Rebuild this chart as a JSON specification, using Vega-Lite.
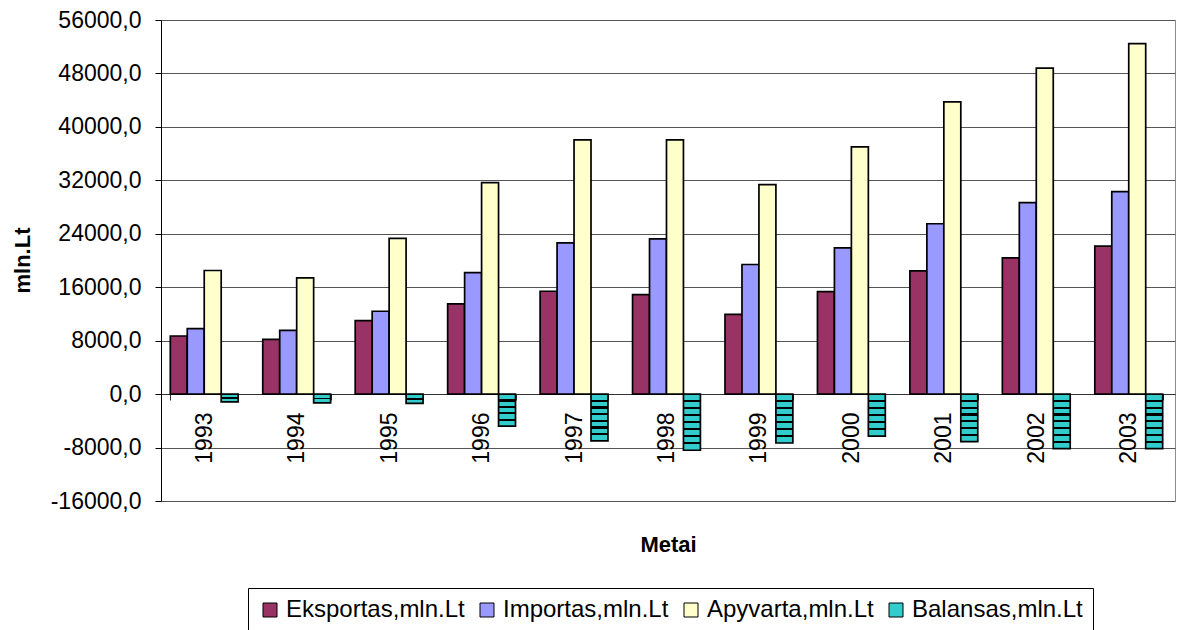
{
  "$schema": "https://vega.github.io/schema/vega-lite/v6.json",
  "width": 1014,
  "height": 481,
  "autosize": {"type": "none"},
  "padding": {"left": 161, "top": 20, "right": 3, "bottom": 129},
  "background": "white",
  "config": {
    "font": "Liberation Sans",
    "view": {"stroke": "#8c8c8c", "strokeWidth": 1}
  },
  "data": {
    "values": [
      {"Year": "1993", "Series": "Eksportas,mln.Lt", "Value": 8700},
      {"Year": "1993", "Series": "Importas,mln.Lt", "Value": 9810},
      {"Year": "1993", "Series": "Apyvarta,mln.Lt", "Value": 18500},
      {"Year": "1993", "Series": "Balansas,mln.Lt", "Value": -1150},
      {"Year": "1994", "Series": "Eksportas,mln.Lt", "Value": 8200},
      {"Year": "1994", "Series": "Importas,mln.Lt", "Value": 9550},
      {"Year": "1994", "Series": "Apyvarta,mln.Lt", "Value": 17400},
      {"Year": "1994", "Series": "Balansas,mln.Lt", "Value": -1300},
      {"Year": "1995", "Series": "Eksportas,mln.Lt", "Value": 11000},
      {"Year": "1995", "Series": "Importas,mln.Lt", "Value": 12400},
      {"Year": "1995", "Series": "Apyvarta,mln.Lt", "Value": 23300},
      {"Year": "1995", "Series": "Balansas,mln.Lt", "Value": -1400},
      {"Year": "1996", "Series": "Eksportas,mln.Lt", "Value": 13500},
      {"Year": "1996", "Series": "Importas,mln.Lt", "Value": 18200},
      {"Year": "1996", "Series": "Apyvarta,mln.Lt", "Value": 31660},
      {"Year": "1996", "Series": "Balansas,mln.Lt", "Value": -4780},
      {"Year": "1997", "Series": "Eksportas,mln.Lt", "Value": 15400},
      {"Year": "1997", "Series": "Importas,mln.Lt", "Value": 22650},
      {"Year": "1997", "Series": "Apyvarta,mln.Lt", "Value": 38050},
      {"Year": "1997", "Series": "Balansas,mln.Lt", "Value": -7000},
      {"Year": "1998", "Series": "Eksportas,mln.Lt", "Value": 14900},
      {"Year": "1998", "Series": "Importas,mln.Lt", "Value": 23250},
      {"Year": "1998", "Series": "Apyvarta,mln.Lt", "Value": 38050},
      {"Year": "1998", "Series": "Balansas,mln.Lt", "Value": -8400},
      {"Year": "1999", "Series": "Eksportas,mln.Lt", "Value": 11950},
      {"Year": "1999", "Series": "Importas,mln.Lt", "Value": 19400},
      {"Year": "1999", "Series": "Apyvarta,mln.Lt", "Value": 31350},
      {"Year": "1999", "Series": "Balansas,mln.Lt", "Value": -7320},
      {"Year": "2000", "Series": "Eksportas,mln.Lt", "Value": 15350},
      {"Year": "2000", "Series": "Importas,mln.Lt", "Value": 21900},
      {"Year": "2000", "Series": "Apyvarta,mln.Lt", "Value": 37000},
      {"Year": "2000", "Series": "Balansas,mln.Lt", "Value": -6300},
      {"Year": "2001", "Series": "Eksportas,mln.Lt", "Value": 18450},
      {"Year": "2001", "Series": "Importas,mln.Lt", "Value": 25500},
      {"Year": "2001", "Series": "Apyvarta,mln.Lt", "Value": 43750},
      {"Year": "2001", "Series": "Balansas,mln.Lt", "Value": -7100},
      {"Year": "2002", "Series": "Eksportas,mln.Lt", "Value": 20400},
      {"Year": "2002", "Series": "Importas,mln.Lt", "Value": 28650},
      {"Year": "2002", "Series": "Apyvarta,mln.Lt", "Value": 48800},
      {"Year": "2002", "Series": "Balansas,mln.Lt", "Value": -8150},
      {"Year": "2003", "Series": "Eksportas,mln.Lt", "Value": 22150},
      {"Year": "2003", "Series": "Importas,mln.Lt", "Value": 30300},
      {"Year": "2003", "Series": "Apyvarta,mln.Lt", "Value": 52450},
      {"Year": "2003", "Series": "Balansas,mln.Lt", "Value": -8150}
    ]
  },
  "mark": {"type": "bar", "stroke": "#000000", "strokeWidth": 1.7},
  "encoding": {
    "x": {
      "field": "Year",
      "type": "nominal",
      "scale": {"paddingInner": 0.266, "paddingOuter": 0.117, "align": 0.43},
      "axis": {
        "title": "Metai",
        "titleFontSize": 22,
        "titleFontWeight": "bold",
        "titleColor": "#000",
        "titleY": 150,
        "titleBaseline": "middle",
        "labelAngle": -90,
        "labelFontSize": 23,
        "labelColor": "#000",
        "labelPadding": 12,
        "tickBand": "extent",
        "tickSize": 6,
        "tickColor": "#333",
        "domainColor": "#333",
        "offset": -107,
        "grid": false
      }
    },
    "xOffset": {
      "field": "Series",
      "type": "nominal",
      "sort": ["Eksportas,mln.Lt", "Importas,mln.Lt", "Apyvarta,mln.Lt", "Balansas,mln.Lt"],
      "scale": {"paddingInner": 0, "paddingOuter": 0}
    },
    "y": {
      "field": "Value",
      "type": "quantitative",
      "scale": {"domain": [-16000, 56000], "nice": false, "zero": false},
      "axis": {
        "values": [-16000, -8000, 0, 8000, 16000, 24000, 32000, 40000, 48000, 56000],
        "labelExpr": "replace(replace(format(datum.value, '.1f'), '.', ','), '\u2212', '-')",
        "labelFontSize": 23,
        "labelColor": "#000",
        "labelPadding": 14,
        "tickSize": 6,
        "tickColor": "#000",
        "domainColor": "#000",
        "grid": true,
        "gridColor": "#555",
        "title": "mln.Lt",
        "titleFontSize": 22,
        "titleFontWeight": "bold",
        "titleColor": "#000",
        "titleX": -139,
        "titleY": 240,
        "titleAlign": "center",
        "titleBaseline": "middle",
        "titleAngle": -90
      }
    },
    "fill": {
      "field": "Series",
      "type": "nominal",
      "scale": {
        "domain": ["Eksportas,mln.Lt", "Importas,mln.Lt", "Apyvarta,mln.Lt", "Balansas,mln.Lt"],
        "range": ["#993366", "#9999FF", "#FFFFCC", "#33CCCC"]
      },
      "legend": {
        "title": null,
        "orient": "none",
        "legendX": 87,
        "legendY": 568,
        "direction": "horizontal",
        "columns": 4,
        "symbolType": "square",
        "symbolSize": 196,
        "symbolStrokeColor": "#000",
        "symbolStrokeWidth": 1,
        "labelFontSize": 24,
        "labelColor": "#000",
        "labelOffset": 4,
        "columnPadding": 10,
        "padding": 10,
        "strokeColor": "#000",
        "fillColor": "#fff",
        "labelLimit": 300
      },
      "condition": [
        {
          "test": "datum.Series === 'Balansas,mln.Lt' && datum.Value < -7800",
          "value": {"gradient": "linear", "x1": 0, "y1": 0, "x2": 0, "y2": 1, "stops": [
            {"offset": 0, "color": "#33CCCC"}, {"offset": 0.104, "color": "#33CCCC"}, {"offset": 0.104, "color": "#000"}, {"offset": 0.146, "color": "#000"},
            {"offset": 0.146, "color": "#33CCCC"}, {"offset": 0.229, "color": "#33CCCC"}, {"offset": 0.229, "color": "#000"}, {"offset": 0.271, "color": "#000"},
            {"offset": 0.271, "color": "#33CCCC"}, {"offset": 0.354, "color": "#33CCCC"}, {"offset": 0.354, "color": "#000"}, {"offset": 0.396, "color": "#000"},
            {"offset": 0.396, "color": "#33CCCC"}, {"offset": 0.479, "color": "#33CCCC"}, {"offset": 0.479, "color": "#000"}, {"offset": 0.521, "color": "#000"},
            {"offset": 0.521, "color": "#33CCCC"}, {"offset": 0.604, "color": "#33CCCC"}, {"offset": 0.604, "color": "#000"}, {"offset": 0.646, "color": "#000"},
            {"offset": 0.646, "color": "#33CCCC"}, {"offset": 0.729, "color": "#33CCCC"}, {"offset": 0.729, "color": "#000"}, {"offset": 0.771, "color": "#000"},
            {"offset": 0.771, "color": "#33CCCC"}, {"offset": 0.854, "color": "#33CCCC"}, {"offset": 0.854, "color": "#000"}, {"offset": 0.896, "color": "#000"},
            {"offset": 0.896, "color": "#33CCCC"}, {"offset": 1, "color": "#33CCCC"}
          ]}
        },
        {
          "test": "datum.Series === 'Balansas,mln.Lt' && datum.Value < -6600",
          "value": {"gradient": "linear", "x1": 0, "y1": 0, "x2": 0, "y2": 1, "stops": [
            {"offset": 0, "color": "#33CCCC"}, {"offset": 0.119, "color": "#33CCCC"}, {"offset": 0.119, "color": "#000"}, {"offset": 0.167, "color": "#000"},
            {"offset": 0.167, "color": "#33CCCC"}, {"offset": 0.262, "color": "#33CCCC"}, {"offset": 0.262, "color": "#000"}, {"offset": 0.31, "color": "#000"},
            {"offset": 0.31, "color": "#33CCCC"}, {"offset": 0.405, "color": "#33CCCC"}, {"offset": 0.405, "color": "#000"}, {"offset": 0.452, "color": "#000"},
            {"offset": 0.452, "color": "#33CCCC"}, {"offset": 0.548, "color": "#33CCCC"}, {"offset": 0.548, "color": "#000"}, {"offset": 0.595, "color": "#000"},
            {"offset": 0.595, "color": "#33CCCC"}, {"offset": 0.69, "color": "#33CCCC"}, {"offset": 0.69, "color": "#000"}, {"offset": 0.738, "color": "#000"},
            {"offset": 0.738, "color": "#33CCCC"}, {"offset": 0.833, "color": "#33CCCC"}, {"offset": 0.833, "color": "#000"}, {"offset": 0.881, "color": "#000"},
            {"offset": 0.881, "color": "#33CCCC"}, {"offset": 1, "color": "#33CCCC"}
          ]}
        },
        {
          "test": "datum.Series === 'Balansas,mln.Lt' && datum.Value < -5500",
          "value": {"gradient": "linear", "x1": 0, "y1": 0, "x2": 0, "y2": 1, "stops": [
            {"offset": 0, "color": "#33CCCC"}, {"offset": 0.139, "color": "#33CCCC"}, {"offset": 0.139, "color": "#000"}, {"offset": 0.194, "color": "#000"},
            {"offset": 0.194, "color": "#33CCCC"}, {"offset": 0.306, "color": "#33CCCC"}, {"offset": 0.306, "color": "#000"}, {"offset": 0.361, "color": "#000"},
            {"offset": 0.361, "color": "#33CCCC"}, {"offset": 0.472, "color": "#33CCCC"}, {"offset": 0.472, "color": "#000"}, {"offset": 0.528, "color": "#000"},
            {"offset": 0.528, "color": "#33CCCC"}, {"offset": 0.639, "color": "#33CCCC"}, {"offset": 0.639, "color": "#000"}, {"offset": 0.694, "color": "#000"},
            {"offset": 0.694, "color": "#33CCCC"}, {"offset": 0.806, "color": "#33CCCC"}, {"offset": 0.806, "color": "#000"}, {"offset": 0.861, "color": "#000"},
            {"offset": 0.861, "color": "#33CCCC"}, {"offset": 1, "color": "#33CCCC"}
          ]}
        },
        {
          "test": "datum.Series === 'Balansas,mln.Lt' && datum.Value < -3000",
          "value": {"gradient": "linear", "x1": 0, "y1": 0, "x2": 0, "y2": 1, "stops": [
            {"offset": 0, "color": "#33CCCC"}, {"offset": 0.165, "color": "#33CCCC"}, {"offset": 0.165, "color": "#000"}, {"offset": 0.235, "color": "#000"},
            {"offset": 0.235, "color": "#33CCCC"}, {"offset": 0.365, "color": "#33CCCC"}, {"offset": 0.365, "color": "#000"}, {"offset": 0.435, "color": "#000"},
            {"offset": 0.435, "color": "#33CCCC"}, {"offset": 0.565, "color": "#33CCCC"}, {"offset": 0.565, "color": "#000"}, {"offset": 0.635, "color": "#000"},
            {"offset": 0.635, "color": "#33CCCC"}, {"offset": 0.765, "color": "#33CCCC"}, {"offset": 0.765, "color": "#000"}, {"offset": 0.835, "color": "#000"},
            {"offset": 0.835, "color": "#33CCCC"}, {"offset": 1, "color": "#33CCCC"}
          ]}
        },
        {
          "test": "datum.Series === 'Balansas,mln.Lt'",
          "value": {"gradient": "linear", "x1": 0, "y1": 0, "x2": 0, "y2": 1, "stops": [
            {"offset": 0, "color": "#33CCCC"}, {"offset": 0.4, "color": "#33CCCC"}, {"offset": 0.4, "color": "#000"}, {"offset": 0.6, "color": "#000"},
            {"offset": 0.6, "color": "#33CCCC"}, {"offset": 1, "color": "#33CCCC"}
          ]}
        }
      ]
    }
  }
}
